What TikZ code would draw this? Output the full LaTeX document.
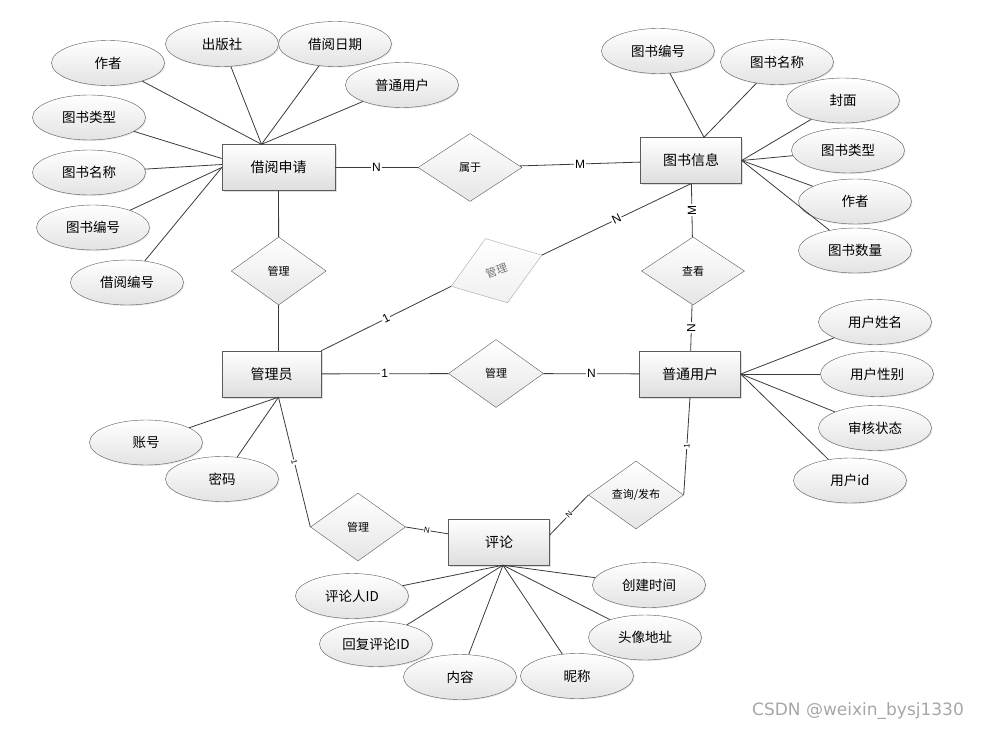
\documentclass[tikz,border=0pt]{standalone}
\usepackage{fontspec}
\setmainfont{Noto Sans CJK SC}
\newfontfamily\latinsans{Liberation Sans}
\newfontfamily\marksans{DejaVu Sans}
\usetikzlibrary{shapes.geometric,shadows}
\definecolor{boxgray}{HTML}{5A5A5A}
\definecolor{linegray}{HTML}{3A3A3A}

\begin{document}
\begin{tikzpicture}[x=1pt, y=-1pt,
    entity/.style={draw=boxgray, rectangle, top color=white, bottom color=black!13, minimum height=46pt, minimum width=101pt, inner sep=0pt, font=\fontsize{14}{16}\selectfont, drop shadow={shadow xshift=1.5pt, shadow yshift=-1.5pt, opacity=0.25}},
    attr/.style={draw=boxgray, ellipse, top color=white, bottom color=black!11, minimum height=45pt, minimum width=113pt, inner sep=0pt, font=\fontsize{13.5}{15}\selectfont, drop shadow={shadow xshift=1pt, shadow yshift=-1pt, opacity=0.2}},
    rel/.style={draw=boxgray, diamond, top color=white, bottom color=black!10, minimum height=68pt, minimum width=95pt, inner sep=0pt, font=\fontsize{11}{13}\selectfont},
    link/.style={draw=linegray, line width=0.8pt},
    card/.style={fill=white, inner sep=1pt, font=\latinsans\fontsize{12}{14}\selectfont},
    smallcard/.style={fill=white, inner sep=0.5pt, sloped, font=\latinsans\fontsize{8}{9}\selectfont}
]
\useasboundingbox (0,0) rectangle (982,730);

% Entities
\node[entity, minimum width=113pt] (jysq) at (278.5,167.5) {借阅申请};
\node[entity] (tsxx) at (691,160.5) {图书信息};
\node[entity, minimum width=99pt] (gly) at (271.5,374) {管理员};
\node[entity] (ptyh) at (690,374) {普通用户};
\node[entity] (pl) at (499,542) {评论};

% Relations
\node[rel, minimum width=104pt] (sy) at (470,167.5) {属于};
\node[rel] (gl1) at (278.7,271) {管理};
\node[rel, minimum width=96pt, rotate=19, draw=black!35, text=black!55, bottom color=black!6] (gl2) at (496.5,270.7) {管理};
\node[rel, minimum width=103pt] (ck) at (693,271) {查看};
\node[rel] (gl3) at (496,373.5) {管理};
\node[rel] (gl4) at (358,527) {管理};
\node[rel] (cxfb) at (636,495) {查询/发布};

% Attributes of the borrow request
\node[attr] (zz) at (108,63) {作者};
\node[attr] (cbs) at (222,44) {出版社};
\node[attr] (jyrq) at (335,44) {借阅日期};
\node[attr] (ptyhA) at (402,85) {普通用户};
\node[attr] (tslx) at (89,117.5) {图书类型};
\node[attr] (tsmc) at (89,172.5) {图书名称};
\node[attr] (tsbh) at (93,227.5) {图书编号};
\node[attr] (jybh) at (127,282.5) {借阅编号};

% Attributes of the book
\node[attr] (tsbhB) at (658,51) {图书编号};
\node[attr] (tsmcB) at (777,62) {图书名称};
\node[attr] (fm) at (843,100.5) {封面};
\node[attr] (tslxB) at (848,150.5) {图书类型};
\node[attr] (zzB) at (855,201.5) {作者};
\node[attr] (tssl) at (855,250.5) {图书数量};

% Attributes of the user
\node[attr] (yhxm) at (875,322) {用户姓名};
\node[attr] (yhxb) at (877,374) {用户性别};
\node[attr] (shzt) at (875,428) {审核状态};
\node[attr] (yhid) at (850,480.5) {用户id};

% Attributes of the admin
\node[attr] (zh) at (146,442.5) {账号};
\node[attr] (mm) at (222,479) {密码};

% Attributes of the comment
\node[attr] (plrid) at (352,596) {评论人ID};
\node[attr] (hfplid) at (376,644) {回复评论ID};
\node[attr] (nr) at (460,677) {内容};
\node[attr] (nc) at (577,676) {昵称};
\node[attr] (txdz) at (645,637.5) {头像地址};
\node[attr] (cjsj) at (649,585) {创建时间};

% Relationships
\draw[link] (jysq) -- (sy) node[midway, card] {N};
\draw[link] (sy) -- (tsxx) node[midway, card] {M};
\draw[link] (jysq) -- (gl1);
\draw[link] (gl1) -- (gl1 |- gly.north);
\draw[link] (gly.north east) -- (gl2.west) node[midway, card, sloped] {1};
\draw[link] (gl2.east) -- (tsxx.south) node[midway, card, sloped] {N};
\draw[link] (tsxx) -- (ck) node[midway, card, rotate=90] {M};
\draw[link] (ck) -- (ptyh) node[midway, card, rotate=90] {N};
\draw[link] (gly) -- (gl3) node[midway, card] {1};
\draw[link] (gl3) -- (ptyh) node[midway, card] {N};
\draw[link] ([xshift=7pt]gly.south) -- (gl4.west) node[midway, smallcard] {1};
\draw[link] (gl4.east) -- (pl) node[midway, smallcard] {N};
\draw[link] ([yshift=7pt]pl.east) -- (cxfb.west) node[midway, smallcard] {N};
\draw[link] (cxfb.east) -- (ptyh.south) node[midway, smallcard] {1};

% Attribute links
\draw[link] (zz) -- ([xshift=-17pt]jysq.north);
\draw[link] (cbs) -- ([xshift=-17pt]jysq.north);
\draw[link] (jyrq) -- ([xshift=-17pt]jysq.north);
\draw[link] (ptyhA) -- ([xshift=-17pt]jysq.north);
\draw[link] (tslx) -- ([yshift=9pt]jysq.west);
\draw[link] (tsmc) -- ([yshift=3pt]jysq.west);
\draw[link] (tsbh) -- (jysq.west);
\draw[link] (jybh) -- (jysq.west);

\draw[link] (tsbhB) -- ([xshift=13pt]tsxx.north);
\draw[link] (tsmcB) -- ([xshift=13pt]tsxx.north);
\draw[link] (fm) -- (tsxx.east);
\draw[link] (tslxB) -- (tsxx.east);
\draw[link] (zzB) -- (tsxx.east);
\draw[link] (tssl) -- (tsxx.east);

\draw[link] (yhxm) -- (ptyh.east);
\draw[link] (yhxb) -- (ptyh.east);
\draw[link] (shzt) -- (ptyh.east);
\draw[link] (yhid) -- (ptyh.east);

\draw[link] (zh) -- ([xshift=7pt]gly.south);
\draw[link] (mm) -- ([xshift=7pt]gly.south);

\draw[link] (plrid) -- ([xshift=4pt]pl.south);
\draw[link] (hfplid) -- ([xshift=4pt]pl.south);
\draw[link] (nr) -- ([xshift=4pt]pl.south);
\draw[link] (nc) -- ([xshift=4pt]pl.south);
\draw[link] (txdz) -- ([xshift=4pt]pl.south);
\draw[link] (cjsj) -- ([xshift=4pt]pl.south);

% Watermark
\node[font=\marksans\fontsize{17}{19}\selectfont, text=black!35] (wm) at (858,711) {CSDN @weixin\_bysj1330};

\end{tikzpicture}
\end{document}
